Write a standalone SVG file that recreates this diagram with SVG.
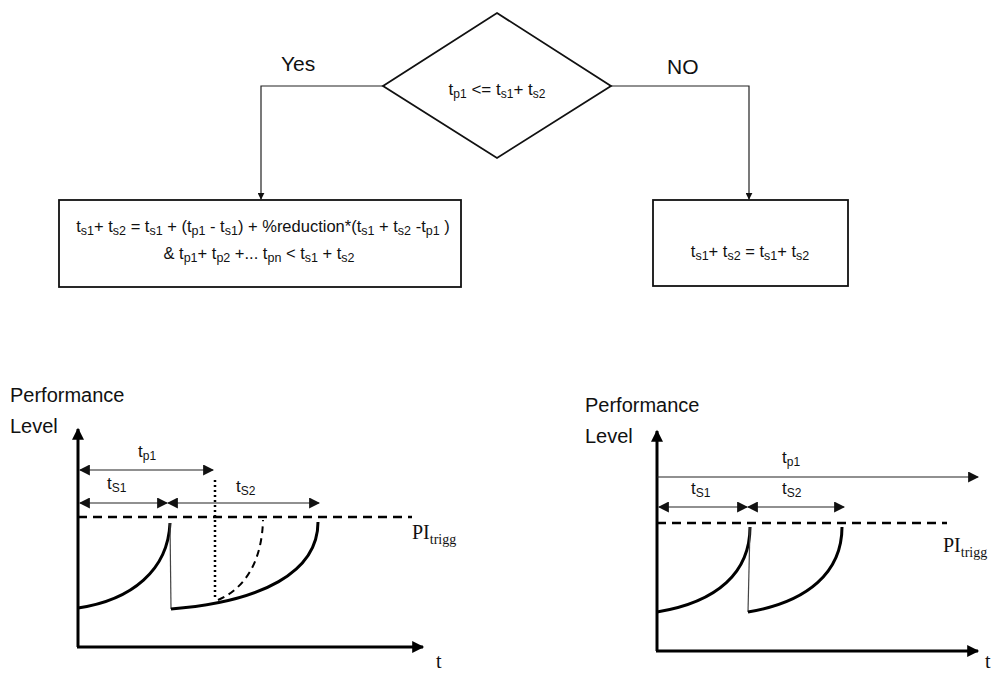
<svg xmlns="http://www.w3.org/2000/svg" width="996" height="675" viewBox="0 0 996 675">
<defs>
<style>
.lbl{font-family:"Liberation Sans","Open Sans",sans-serif;fill:#111}
.serif{font-family:"Liberation Serif","DejaVu Serif",serif;fill:#111}
.thin{stroke:#222;stroke-width:1.2;fill:none}
.node{fill:#fff;stroke:#111;stroke-width:1.8}
.axis{stroke:#000;stroke-width:3;fill:none}
.curve{stroke:#000;stroke-width:3;fill:none}
.dash{stroke:#000;stroke-width:2.5;fill:none;stroke-dasharray:9 6}
</style>
<marker id="ah" viewBox="0 0 10 10" refX="9" refY="5" markerWidth="7" markerHeight="7" markerUnits="userSpaceOnUse" orient="auto-start-reverse"><path d="M0,0 L10,5 L0,10 z" fill="#111"/></marker>
<marker id="sa" viewBox="0 0 10 10" refX="9" refY="5" markerWidth="11" markerHeight="11" markerUnits="userSpaceOnUse" orient="auto-start-reverse"><path d="M0,0 L10,5 L0,10 z" fill="#111"/></marker>
<marker id="ax" viewBox="0 0 10 10" refX="9" refY="5" markerWidth="14" markerHeight="12" markerUnits="userSpaceOnUse" orient="auto"><path d="M0,0 L10,5 L0,10 z" fill="#000"/></marker>
</defs>

<g id="connectors">
<path class="thin" d="M383,86 H261 V199" marker-end="url(#ah)"/>
<path class="thin" d="M611,86 H749 V199" marker-end="url(#ah)"/>
</g>

<g id="decision">
<polygon class="node" points="497,13 611,86 497,158 383,86"/>
<text class="lbl" x="497" y="95" font-size="17" text-anchor="middle">t<tspan font-size="12" dy="3">p1</tspan><tspan dy="-3"> &lt;= t</tspan><tspan font-size="12" dy="3">s1</tspan><tspan dy="-3">+ t</tspan><tspan font-size="12" dy="3">s2</tspan></text>
</g>

<g id="yes-label"><text class="lbl" x="281" y="71" font-size="21">Yes</text></g>
<g id="no-label"><text class="lbl" x="667" y="74" font-size="21">NO</text></g>

<g id="yes-box">
<rect class="node" x="59" y="200" width="402" height="87"/>
<text class="lbl" x="263" y="232" font-size="16.5" text-anchor="middle">t<tspan font-size="12.5" dy="3">s1</tspan><tspan dy="-3">+ t</tspan><tspan font-size="12.5" dy="3">s2</tspan><tspan dy="-3"> = t</tspan><tspan font-size="12.5" dy="3">s1</tspan><tspan dy="-3"> + (t</tspan><tspan font-size="12.5" dy="3">p1</tspan><tspan dy="-3"> - t</tspan><tspan font-size="12.5" dy="3">s1</tspan><tspan dy="-3">) + %reduction*(t</tspan><tspan font-size="12.5" dy="3">s1</tspan><tspan dy="-3"> + t</tspan><tspan font-size="12.5" dy="3">s2</tspan><tspan dy="-3"> -t</tspan><tspan font-size="12.5" dy="3">p1</tspan><tspan dy="-3"> )</tspan></text>
<text class="lbl" x="259" y="259" font-size="16.5" text-anchor="middle">&amp; t<tspan font-size="12.5" dy="3">p1</tspan><tspan dy="-3">+ t</tspan><tspan font-size="12.5" dy="3">p2</tspan><tspan dy="-3"> +... t</tspan><tspan font-size="12.5" dy="3">pn</tspan><tspan dy="-3"> &lt; t</tspan><tspan font-size="12.5" dy="3">s1</tspan><tspan dy="-3"> + t</tspan><tspan font-size="12.5" dy="3">s2</tspan></text>
</g>

<g id="no-box">
<rect class="node" x="653" y="200" width="195" height="86"/>
<text class="lbl" x="750" y="257" font-size="16.5" text-anchor="middle">t<tspan font-size="12.5" dy="3">s1</tspan><tspan dy="-3">+ t</tspan><tspan font-size="12.5" dy="3">s2</tspan><tspan dy="-3"> = t</tspan><tspan font-size="12.5" dy="3">s1</tspan><tspan dy="-3">+ t</tspan><tspan font-size="12.5" dy="3">s2</tspan></text>
</g>

<g id="chart-left">
<text class="lbl" x="10" y="402" font-size="20">Performance</text>
<text class="lbl" x="10" y="433" font-size="20">Level</text>
<line class="axis" x1="78" y1="647" x2="78" y2="429" marker-end="url(#ax)"/>
<line class="axis" x1="77" y1="647" x2="423" y2="647" marker-end="url(#ax)"/>
<text class="serif" x="436" y="668" font-size="20">t</text>
<line class="thin" x1="80" y1="470" x2="213" y2="470" marker-start="url(#sa)" marker-end="url(#sa)"/>
<text class="lbl" x="138" y="457" font-size="17">t<tspan font-size="12" dy="3">p1</tspan></text>
<line class="thin" x1="80" y1="503" x2="167" y2="503" marker-start="url(#sa)" marker-end="url(#sa)"/>
<line class="thin" x1="168" y1="503" x2="319" y2="503" marker-start="url(#sa)" marker-end="url(#sa)"/>
<text class="lbl" x="107" y="489" font-size="17">t<tspan font-size="12" dy="3">S1</tspan></text>
<text class="lbl" x="236" y="492" font-size="17">t<tspan font-size="12" dy="3">S2</tspan></text>
<line class="dash" x1="78" y1="517" x2="412" y2="517"/>
<text class="serif" x="412" y="539" font-size="20">PI<tspan font-size="14" dy="5">trigg</tspan></text>
<line x1="215" y1="480" x2="215" y2="600" stroke="#000" stroke-width="2.5" stroke-dasharray="2 3"/>
<path class="curve" d="M78,608 C132,600 168,570 170,523"/>
<line x1="170" y1="523" x2="171" y2="609" stroke="#444" stroke-width="1.2"/>
<path class="curve" d="M171,609 C262,602 318,572 318,522"/>
<path d="M218,600 C246,588 262,560 263,520" fill="none" stroke="#000" stroke-width="2" stroke-dasharray="7 5"/>
</g>

<g id="chart-right">
<text class="lbl" x="585" y="412" font-size="20">Performance</text>
<text class="lbl" x="585" y="443" font-size="20">Level</text>
<line class="axis" x1="657" y1="651" x2="657" y2="431" marker-end="url(#ax)"/>
<line class="axis" x1="656" y1="651" x2="978" y2="651" marker-end="url(#ax)"/>
<text class="serif" x="985" y="668" font-size="20">t</text>
<line class="thin" x1="657" y1="477" x2="978" y2="477" marker-end="url(#sa)"/>
<text class="lbl" x="782" y="463" font-size="17">t<tspan font-size="12" dy="3">p1</tspan></text>
<line class="thin" x1="659" y1="507" x2="747" y2="507" marker-start="url(#sa)" marker-end="url(#sa)"/>
<line class="thin" x1="748" y1="507" x2="844" y2="507" marker-start="url(#sa)" marker-end="url(#sa)"/>
<text class="lbl" x="691" y="494" font-size="17">t<tspan font-size="12" dy="3">S1</tspan></text>
<text class="lbl" x="782" y="494" font-size="17">t<tspan font-size="12" dy="3">S2</tspan></text>
<line class="dash" x1="657" y1="523" x2="947" y2="523"/>
<text class="serif" x="943" y="552" font-size="20">PI<tspan font-size="14" dy="5">trigg</tspan></text>
<path class="curve" d="M657,612 C718,602 750,572 750,527"/>
<line x1="750" y1="527" x2="748" y2="612" stroke="#444" stroke-width="1.2"/>
<path class="curve" d="M748,612 C808,602 842,572 842,527"/>
</g>
</svg>
